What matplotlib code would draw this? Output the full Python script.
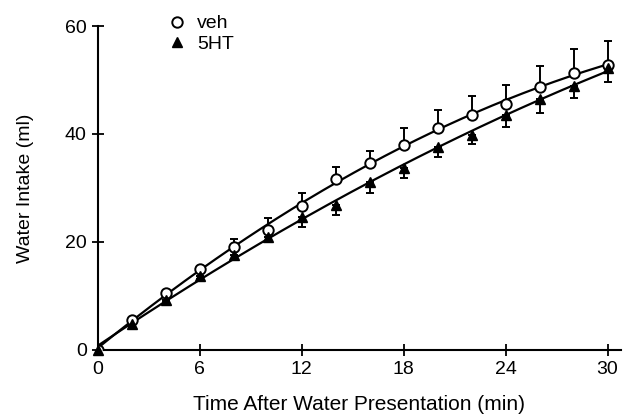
import matplotlib.pyplot as plt
import numpy as np

plt.rcParams['font.family'] = ['Liberation Sans', 'DejaVu Sans']

# time points (min)
time = [0, 2, 4, 6, 8, 10, 12, 14, 16, 18, 20, 22, 24, 26, 28, 30]

# vehicle: mean and SEM (bars drawn upward)
veh = [0, 5.6, 10.6, 15.0, 19.1, 22.3, 26.7, 31.6, 34.6, 38.0, 41.1, 43.5, 45.6, 48.7, 51.3, 52.8]
veh_err = [0, 0.3, 0.4, 0.5, 1.4, 2.1, 2.3, 2.3, 2.3, 3.1, 3.3, 3.5, 3.5, 3.9, 4.4, 4.4]

# 5HT: mean and SEM (bars drawn downward)
ht = [0, 4.7, 9.3, 13.6, 17.6, 21.0, 24.6, 26.9, 31.1, 33.7, 37.6, 39.8, 43.5, 46.5, 48.9, 52.2]
ht_err = [0, 0.3, 0.4, 0.5, 0.8, 1.0, 1.8, 1.9, 2.1, 1.9, 1.8, 1.7, 2.2, 2.6, 2.2, 2.6]

fig = plt.figure(figsize=(6.23, 4.2), dpi=100)
ax = fig.add_axes([0.157, 0.167, 0.84, 0.771])

t = np.array(time)
tt = np.linspace(0, 30, 200)

# fitted curves
for y in (veh, ht):
    c = np.polyfit(t, y, 2)
    ax.plot(tt, np.polyval(c, tt), color='black', lw=1.6, zorder=2)

ax.errorbar(time, veh, yerr=[np.zeros(len(veh)), veh_err], fmt='none',
            ecolor='black', elinewidth=1.4, capsize=3, capthick=1.4, zorder=3)
ax.errorbar(time, ht, yerr=[ht_err, np.zeros(len(ht))], fmt='none',
            ecolor='black', elinewidth=1.4, capsize=3, capthick=1.4, zorder=3)

l1, = ax.plot(time, veh, 'o', ms=7.5, mfc='white', mec='black', mew=1.4, zorder=4, label='veh')
l2, = ax.plot(time, ht, '^', ms=7.5, mfc='black', mec='black', zorder=4, label='5HT', clip_on=False)

ax.legend(handles=[l1, l2], loc='upper left', bbox_to_anchor=(0.115, 1.065),
          frameon=False, handlelength=1.0, handletextpad=0.5, fontsize=14,
          labelspacing=0.15, borderpad=0)

ax.set_xlim(0, 30.8)
ax.set_ylim(0, 60)
ax.set_xticks([0, 6, 12, 18, 24, 30])
ax.set_yticks([0, 20, 40, 60])
ax.spines['top'].set_visible(False)
ax.spines['right'].set_visible(False)
ax.spines['left'].set_linewidth(1.5)
ax.spines['bottom'].set_linewidth(1.5)
ax.tick_params(direction='inout', length=9, width=1.3, labelsize=14)

ax.set_xlabel('Time After Water Presentation (min)', fontsize=15, labelpad=12)
ax.set_ylabel('Water Intake (ml)', fontsize=14, labelpad=22)

fig.savefig('out.png', dpi=100)
